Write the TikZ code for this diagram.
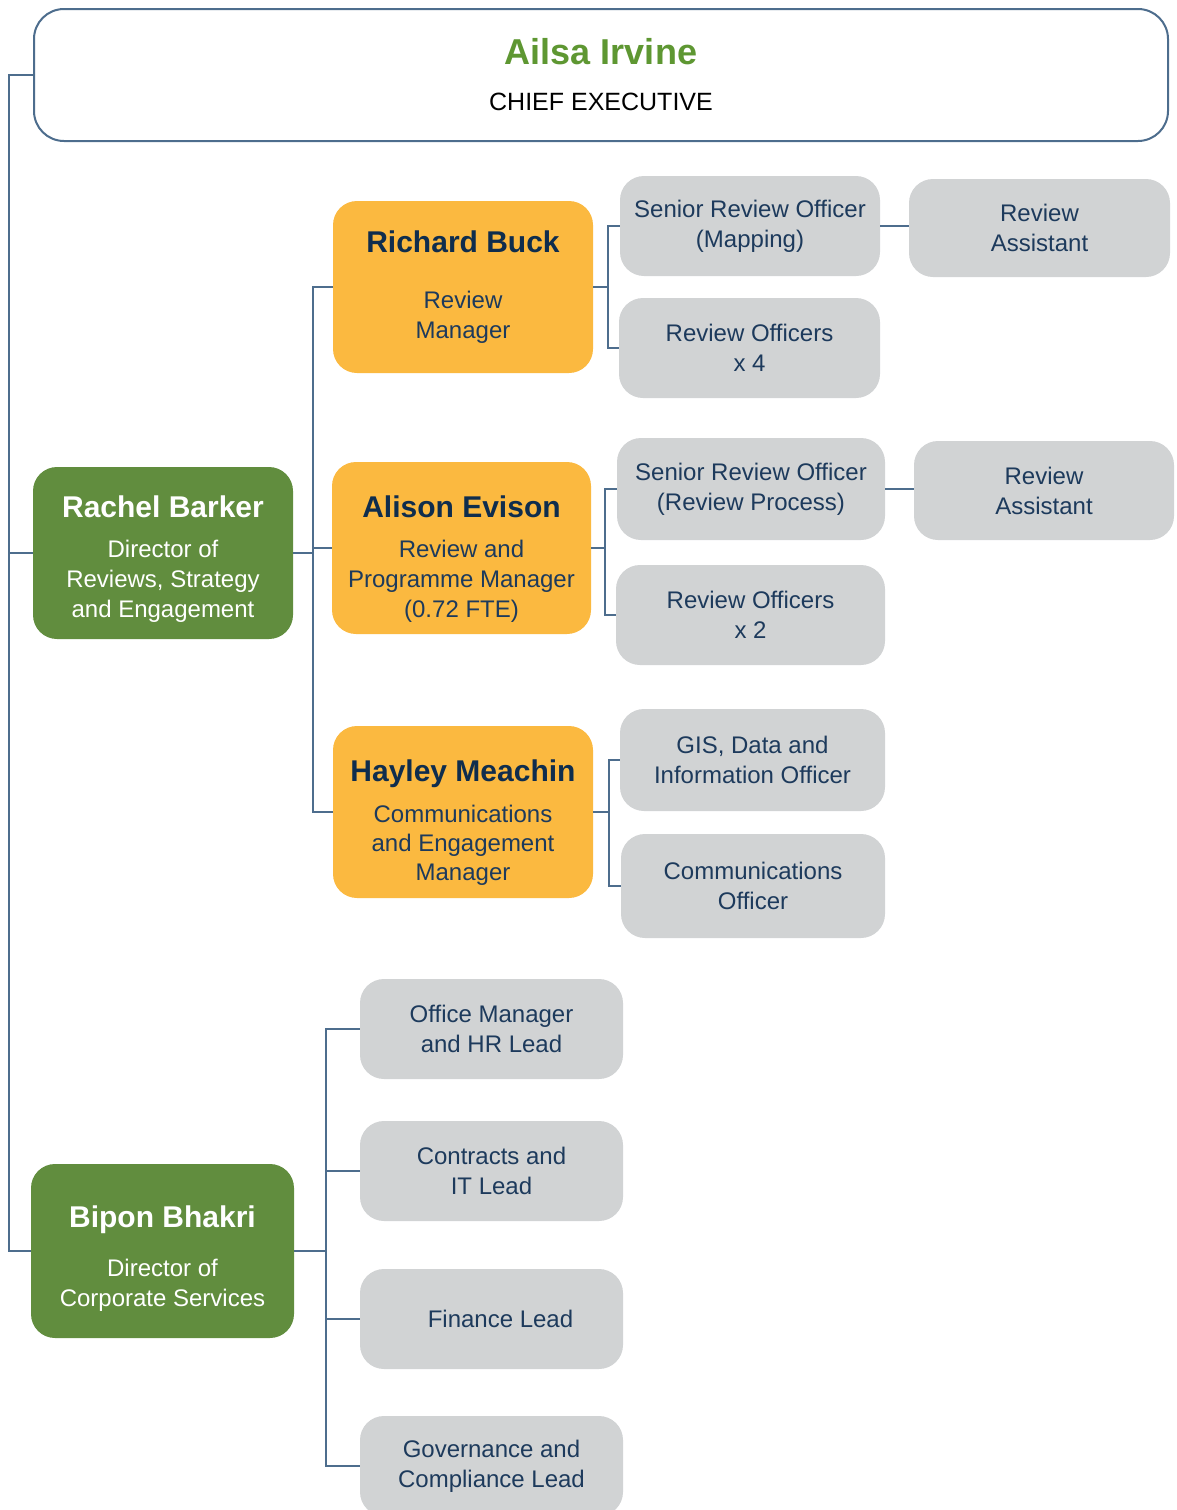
\documentclass[tikz,border=0pt]{standalone}
\usepackage{fontspec}
\setmainfont{Liberation Sans}
\definecolor{lineblue}{HTML}{4D6D8D}
\definecolor{navy}{HTML}{1D3A5C}
\definecolor{navydark}{HTML}{0F2D4D}
\definecolor{boxgray}{HTML}{D1D3D4}
\definecolor{boxorange}{HTML}{FBB940}
\definecolor{boxgreen}{HTML}{618D3E}
\definecolor{ceogreen}{HTML}{5E9732}
\newcommand{\pname}[2]{{\fontsize{#1}{#1}\selectfont\bfseries #2}}
\begin{document}
\begin{tikzpicture}[x=1pt,y=-1pt,
  base/.style={rounded corners=24pt, align=center, inner sep=4pt,
    font=\fontsize{24}{30}\selectfont},
  graybox/.style={base, fill=boxgray, text=navy},
  orangebox/.style={base, fill=boxorange, text=navy, minimum width=260pt, minimum height=172pt},
  greenbox/.style={base, fill=boxgreen, text=white},
  boxtext/.style={align=center, inner sep=0pt, font=\fontsize{24}{30}\selectfont},
  conn/.style={draw=lineblue, line width=2pt}]
\useasboundingbox (0,0) rectangle (1177,1510);

% Chief executive
\node[base, draw=lineblue, line width=2pt, rounded corners=30pt, fill=white,
  minimum width=1134pt, minimum height=132pt] (ceo) at (601,75)
  {{\color{ceogreen}\pname{36}{Ailsa Irvine}}\\[16pt]{\fontsize{25}{30}\selectfont\color{black}CHIEF EXECUTIVE}};

% Directors
\node[greenbox, minimum width=260pt, minimum height=172pt] (rachel) at (163,553) {};
\node[boxtext, text=white] (rachelT) at ([yshift=-6pt]rachel.center)
  {\pname{30}{Rachel Barker}\\[10pt]Director of\\Reviews, Strategy\\and Engagement};
\node[greenbox, minimum width=263pt, minimum height=174pt] (bipon) at (162.5,1251) {};
\node[boxtext, text=white] (biponT) at ([yshift=-8pt]bipon.center)
  {\pname{30}{Bipon Bhakri}\\[19pt]Director of\\Corporate Services};

% Managers
\node[orangebox] (richard) at (463,287)
  {{\color{navydark}\pname{30}{Richard Buck}}\\[26pt]Review\\Manager};
\node[orangebox, minimum width=259pt] (alison) at (461.5,548) {};
\node[boxtext, text=navy] (alisonT) at ([yshift=-11pt]alison.center)
  {{\color{navydark}\pname{30}{Alison Evison}}\\[10pt]Review and\\Programme Manager\\(0.72 FTE)};
\node[orangebox] (hayley) at (463,812) {};
\node[boxtext, text=navy, font=\fontsize{24}{29}\selectfont] (hayleyT) at ([yshift=-11pt]hayley.center)
  {{\color{navydark}\pname{30}{Hayley Meachin}}\\[12pt]Communications\\and Engagement\\Manager};

% Review team (Richard)
\node[graybox, minimum width=260pt, minimum height=100pt] (sro1) at (750,226)
  {Senior Review Officer\\(Mapping)};
\node[graybox, minimum width=261pt, minimum height=98pt] (ra1) at (1039.5,228)
  {Review\\Assistant};
\node[graybox, minimum width=261pt, minimum height=100pt] (ro4) at (749.5,348)
  {Review Officers\\x 4};

% Review team (Alison)
\node[graybox, minimum width=268pt, minimum height=102pt] (sro2) at (751,489)
  {Senior Review Officer\\(Review Process)};
\node[graybox, minimum width=260pt, minimum height=99pt] (ra2) at (1044,490.5)
  {Review\\Assistant};
\node[graybox, minimum width=269pt, minimum height=100pt] (ro2) at (750.5,615)
  {Review Officers\\x 2};

% Comms team (Hayley)
\node[graybox, minimum width=265pt, minimum height=102pt] (gis) at (752.5,760)
  {GIS, Data and\\Information Officer};
\node[graybox, minimum width=264pt, minimum height=104pt] (comms) at (753,886)
  {Communications\\Officer};

% Corporate services (Bipon)
\node[graybox, minimum width=263pt, minimum height=100pt] (office) at (491.5,1029)
  {Office Manager\\and HR Lead};
\node[graybox, minimum width=263pt, minimum height=100pt] (contracts) at (491.5,1171)
  {Contracts and\\IT Lead};
\node[graybox, minimum width=263pt, minimum height=100pt] (finance) at (491.5,1319)
  {\hspace*{18pt}Finance Lead};
\node[graybox, minimum width=263pt, minimum height=100pt] (governance) at (491.5,1466)
  {Governance and\\Compliance Lead};

% Connectors
\draw[conn] (ceo.west) -- ++(-24,0) |- (rachel.west);
\draw[conn] (ceo.west) -- ++(-24,0) |- (bipon.west);

\draw[conn] (rachel.east) -- ++(20,0) |- (richard.west);
\draw[conn] (rachel.east) -- ++(20,0) |- (alison.west);
\draw[conn] (rachel.east) -- ++(20,0) |- (hayley.west);

\draw[conn] (richard.east) -- ++(15,0) |- (sro1.west);
\draw[conn] (richard.east) -- ++(15,0) |- (ro4.west);
\draw[conn] (sro1.east) -- (ra1.west |- sro1.east);

\draw[conn] (alison.east) -- ++(14,0) |- (sro2.west);
\draw[conn] (alison.east) -- ++(14,0) |- (ro2.west);
\draw[conn] (sro2.east) -- (ra2.west |- sro2.east);

\draw[conn] (hayley.east) -- ++(16,0) |- (gis.west);
\draw[conn] (hayley.east) -- ++(16,0) |- (comms.west);

\draw[conn] (bipon.east) -- ++(32,0) |- (office.west);
\draw[conn] (bipon.east) -- ++(32,0) |- (contracts.west);
\draw[conn] (bipon.east) -- ++(32,0) |- (finance.west);
\draw[conn] (bipon.east) -- ++(32,0) |- (governance.west);
\end{tikzpicture}
\end{document}
